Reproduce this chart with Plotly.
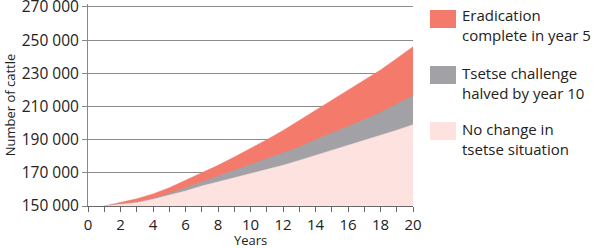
import plotly.graph_objects as go

years = list(range(1, 21))
no_change = [150000, 150800, 152000, 154000, 156500, 159000, 162000, 164500, 167000, 169500,
             172000, 174500, 177500, 180500, 183500, 186500, 189500, 192500, 195700, 199000]
halved = [150000, 151000, 152300, 154500, 157500, 161000, 164500, 168000, 171500, 175000,
          178500, 182000, 185500, 190000, 194000, 198000, 202000, 206500, 211500, 216500]
eradication = [150000, 152000, 154300, 157300, 161000, 165500, 170000, 174500, 179500, 184500,
               190000, 195500, 201500, 208000, 214000, 220000, 226000, 232000, 239000, 246000]

series_names = ["Eradication<br>complete in year 5",
                "Tsetse challenge<br>halved by year 10",
                "No change in<br>tsetse situation"]
series_colors = ["#f47a6b", "#a2a2a6", "#fde2e0"]

y_tick_vals = [150000, 170000, 190000, 210000, 230000, 250000, 270000]
y_tick_text = ["150 000", "170 000", "190 000", "210 000", "230 000", "250 000", "270 000"]
x_tick_vals = list(range(0, 21, 2))
x_tick_text = [str(v) for v in x_tick_vals]
x_title = "Years"
y_title = "Number of cattle"

FONT = "Open Sans"
T, B, L, R = 4, 42, 88, 186
W, H = 599, 248
fig = go.Figure()
for ys, col, name in zip([eradication, halved, no_change], series_colors, series_names):
    fig.add_trace(go.Scatter(x=years, y=ys, mode="lines", fill="tozeroy",
                             fillcolor=col, line=dict(color=col, width=0.5),
                             name=name, showlegend=False, hoverinfo="skip"))

fig.update_layout(
    width=W, height=H,
    margin=dict(l=L, r=R, t=T, b=B),
    paper_bgcolor="white", plot_bgcolor="white",
    font=dict(family=FONT, color="#222222", size=15),
)
fig.update_xaxes(range=[0, 20], tickvals=x_tick_vals, ticktext=x_tick_text,
                 ticks="outside", ticklen=5, tickcolor="#666666",
                 minor=dict(dtick=1, ticks="outside", ticklen=5, tickcolor="#666666"),
                 showgrid=False, showline=True, linecolor="#666666", linewidth=1,
                 automargin=False,
                 tickfont=dict(size=15), zeroline=False)
fig.update_yaxes(range=[150000, 271800], tickvals=y_tick_vals, ticktext=y_tick_text,
                 ticks="outside", ticklen=5, tickcolor="#888888",
                 showgrid=True, gridcolor="#8c8c8c", gridwidth=1,
                 showline=True, linecolor="#888888", linewidth=1,
                 ticklabeloverflow="allow", automargin=False,
                 title=dict(text=y_title, font=dict(size=13), standoff=3),
                 tickfont=dict(size=15.5), zeroline=False)

# pixel positions converted to paper coords
pw = W - L - R
ph = H - T - B
def xp(px):
    return (px - L) / pw
def yp(py):
    return 1 - (py - T) / ph

fig.add_annotation(xref="paper", yref="paper", x=0.5, y=yp(240),
                   xanchor="center", yanchor="middle", text=x_title,
                   showarrow=False, borderpad=0,
                   font=dict(size=13, color="#222222"))

box_tops = [10, 66, 122]
text_centers = [25.5, 82.5, 139]
for top, col, name, cy in zip(box_tops, series_colors, series_names, text_centers):
    fig.add_shape(type="rect", xref="paper", yref="paper",
                  x0=xp(430), x1=xp(456), y0=yp(top + 18), y1=yp(top),
                  fillcolor=col, line=dict(width=0))
    fig.add_annotation(xref="paper", yref="paper", x=xp(461), y=yp(cy),
                       xanchor="left", yanchor="middle", text=name,
                       showarrow=False, align="left", borderpad=0,
                       font=dict(size=15, color="#222222"))

fig.write_html("out.html")
